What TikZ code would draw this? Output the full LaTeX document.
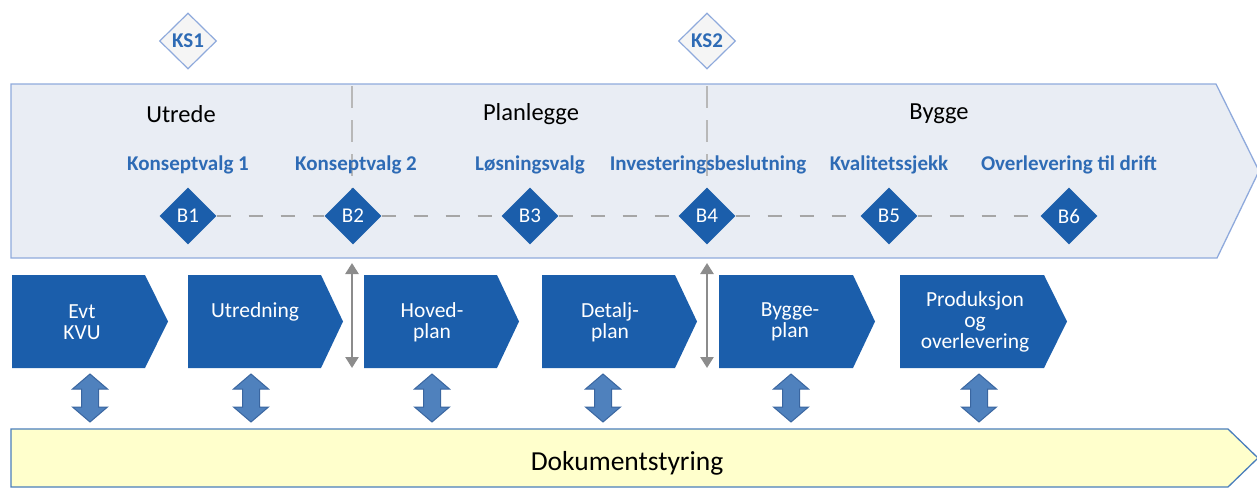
\documentclass[tikz,border=0pt]{standalone}
\usepackage{fontspec}
\setmainfont{Carlito}
\usetikzlibrary{shapes.geometric,arrows.meta}
\definecolor{dblue}{HTML}{1B5EAB}
\definecolor{lblue}{HTML}{2E6BB5}
\definecolor{panelfill}{HTML}{E9EDF4}
\definecolor{panelline}{HTML}{8FAADC}
\definecolor{arrfill}{HTML}{4F81BD}
\definecolor{arrline}{HTML}{3A66A0}
\definecolor{yel}{HTML}{FFFFCC}
\definecolor{yelline}{HTML}{4A7EBB}
\definecolor{dgray}{HTML}{A6A6A6}
\definecolor{agray}{HTML}{8C8C8C}
\begin{document}
\begin{tikzpicture}[x=1pt,y=-1pt,
  panel/.style={fill=panelfill,draw=panelline,line width=1.3pt},
  yelbar/.style={fill=yel,draw=yelline,line width=1.3pt},
  chev/.style={fill=dblue},
  chevtext/.style={text=white,font=\fontsize{21.5}{21}\selectfont,align=center,inner sep=0pt},
  phase/.style={text=black,font=\fontsize{24.5}{26}\selectfont,inner sep=0pt},
  mlabel/.style={text=lblue,font=\bfseries\fontsize{21}{22}\selectfont,inner sep=0pt},
  bdia/.style={diamond,fill=dblue,minimum width=57pt,minimum height=57pt,inner sep=0pt},
  btext/.style={text=white,font=\fontsize{21}{22}\selectfont,inner sep=0pt},
  ksdia/.style={diamond,fill=gray!8,draw=panelline,line width=1.2pt,text=lblue,minimum width=57pt,minimum height=56pt,inner sep=0pt,font=\bfseries\fontsize{21}{22}\selectfont},
  hdash/.style={draw=dgray,line width=1.8pt,dash pattern=on 14pt off 18pt},
  vdash/.style={draw=dgray!80,line width=1.5pt,dash pattern=on 22pt off 12pt},
  garrow/.style={draw=agray,line width=2.5pt,{Triangle[width=13pt,length=11pt]}-{Triangle[width=13pt,length=11pt]}},
  darr/.style={fill=arrfill,draw=arrline,line width=1pt,line join=miter}
]
\useasboundingbox (0,0) rectangle (1257,487);
\begin{scope}
\clip (0,0) rectangle (1257,487);
\path[panel] (11,84) -- (1216,84) -- (1259,171) -- (1217,258) -- (11,258) -- cycle;
\path[yelbar] (11,429) -- (1228,429) -- (1258,458) -- (1228,487) -- (11,487) -- cycle;
\end{scope}

% phase dividers
\coordinate (d1t) at (352,86);
\coordinate (d1b) at (352,215);
\coordinate (d2t) at (707,86);
\coordinate (d2b) at (707,215);
\draw[vdash] (d1t) -- (d1b);
\draw[vdash] (d2t) -- (d2b);

% gates
\node[ksdia] (ks1) at (188,41) {KS1};
\node[ksdia] (ks2) at (707,41) {KS2};

% phase titles
\node[phase] (p1) at (181,114) {Utrede};
\node[phase] (p2) at (531,114) {Planlegge};
\node[phase] (p3) at (939,114) {Bygge};

% milestone labels
\node[mlabel] (l1) at (188,165) {Konseptvalg 1};
\node[mlabel] (l2) at (356,165) {Konseptvalg 2};
\node[mlabel] (l3) at (530,165) {Løsningsvalg};
\node[mlabel] (l4) at (708,165) {Investeringsbeslutning};
\node[mlabel] (l5) at (889,165) {Kvalitetssjekk};
\node[mlabel] (l6) at (1069,165) {Overlevering til drift};

% milestones
\node[bdia] (b1) at (188,216) {};
\node[bdia] (b2) at (353,216) {};
\node[bdia] (b3) at (530,216) {};
\node[bdia] (b4) at (707,216) {};
\node[bdia] (b5) at (889,216) {};
\node[bdia] (b6) at (1069,216) {};
\draw[hdash] (b1.east) -- (b2.west);
\draw[hdash] (b2.east) -- (b3.west);
\draw[hdash] (b3.east) -- (b4.west);
\draw[hdash] (b4.east) -- (b5.west);
\draw[hdash] (b5.east) -- (b6.west);
\foreach \n/\t in {b1/B1,b2/B2,b3/B3,b4/B4,b5/B5,b6/B6}
  \node[btext] (\n t) at (\n) {\t};

% process chevrons
\foreach \a/\b/\c in {12/145/168,188/321/343,364/497/519,542/675/697,719/853/875,900/1044/1067}
  \fill[chev] (\a,275) -- (\b,275) -- (\c,321.5) -- (\b,368) -- (\a,368) -- cycle;
\node[chevtext] (c1) at (82,322) {Evt\\KVU};
\node[chevtext] (c2) at (255,312) {Utredning};
\node[chevtext] (c3) at (432,322) {Hoved-\\plan};
\node[chevtext] (c4) at (610,322) {Detalj-\\plan};
\node[chevtext] (c5) at (790,322) {Bygge-\\plan};
\node[chevtext] (c6) at (975,322) {Produksjon\\og\\overlevering};

% gate arrows
\coordinate (g1t) at (352,263);
\coordinate (g1b) at (352,368);
\coordinate (g2t) at (707,263);
\coordinate (g2b) at (707,368);
\draw[garrow] (g1t) -- (g1b);
\draw[garrow] (g2t) -- (g2b);

% document arrows
\foreach \x [count=\i] in {90,251,432,603,791,979}{
  \coordinate (da\i) at (\x,398);
  \path[darr] (da\i) ++(0,-24) -- ++(17.5,15) -- ++(-9,0) -- ++(0,18) -- ++(9,0)
     -- ++(-17.5,15) -- ++(-17.5,-15) -- ++(9,0) -- ++(0,-18) -- ++(-9,0) -- cycle;
}

\node[text=black,font=\fontsize{27.5}{30}\selectfont,inner sep=0pt] (doc) at (627,463) {Dokumentstyring};
\end{tikzpicture}
\end{document}
